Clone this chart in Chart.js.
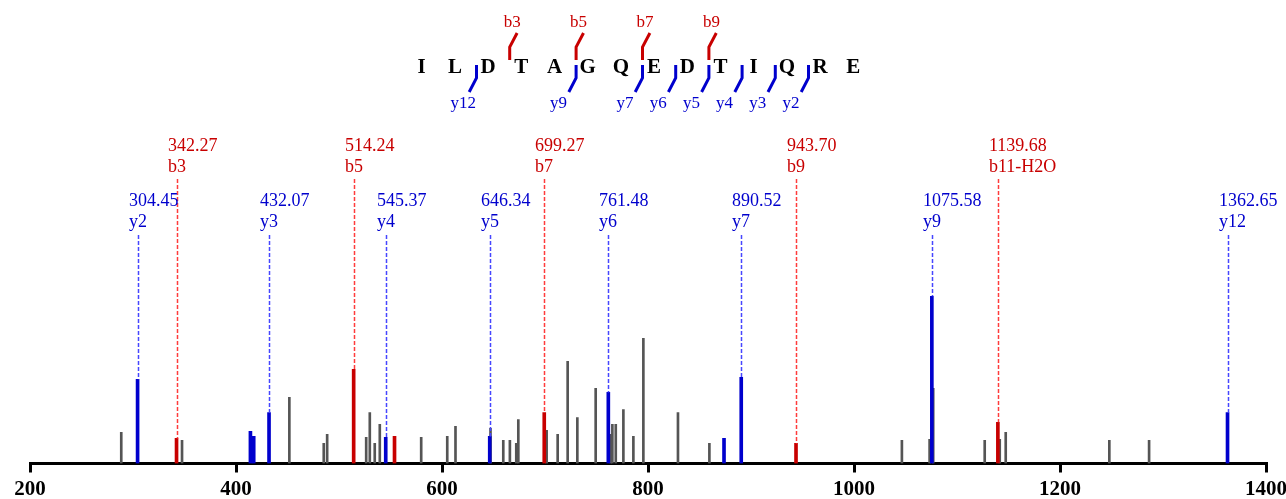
<!DOCTYPE html>
<html lang="en">
<head>
<meta charset="UTF-8">
<title>MS/MS spectrum</title>
<script src="https://cdn.jsdelivr.net/npm/chart.js"></script>
<style>
  html, body { margin: 0; padding: 0; background: #fff; }
</style>
</head>
<body>
<canvas id="myChart" width="1286" height="499"></canvas>
<script>
// peptide and fragment cuts
const peptide = ['I','L','D','T','A','G','Q','E','D','T','I','Q','R','E'];
const bCuts = [3, 5, 7, 9];
const yCuts = [12, 9, 7, 6, 5, 4, 3, 2];

// unmatched peaks (grey)
const greyMz  = [288.6, 347.6, 451.8, 485.2, 488.5, 526.4, 529.9, 534.7, 539.6, 579.8, 605.1, 613.1,
                 647.1, 659.5, 665.9, 672.1, 674.1, 701.6, 712.3, 722.0, 731.4, 749.2, 763.8, 765.4,
                 768.7, 776.1, 785.8, 795.5, 829.1, 859.6, 1046.5, 1073.4, 1076.9, 1126.9, 1141.5,
                 1147.3, 1247.9, 1286.5];
const greyInt = [18.6, 13.8, 39.5, 12.0, 17.4, 15.6, 30.5, 12.0, 23.4, 15.6, 16.2, 22.2,
                 21.0, 13.8, 13.8, 12.0, 26.3, 19.8, 17.4, 61.1, 27.5, 44.9, 17.4, 23.4,
                 23.4, 32.3, 16.2, 74.9, 30.5, 12.0, 13.8, 14.4, 44.9, 13.8, 14.4,
                 18.6, 13.8, 13.8];

// y ions (blue)
const blueMz  = [304.45, 414.0, 417.2, 432.07, 545.37, 646.34, 761.48, 873.8, 890.52, 1075.58, 1362.65];
const blueInt = [50.3, 19.2, 16.2, 30.5, 15.6, 16.2, 42.5, 15.0, 51.5, 100, 30.5];

// b ions (red)
const redMz  = [342.27, 514.24, 553.9, 699.27, 943.70, 1139.68];
const redInt = [15.0, 56.3, 16.2, 30.5, 12.0, 24.6];

// annotated peaks
const bLabelMz   = [342.27, 514.24, 699.27, 943.70, 1139.68];
const bLabelName = ['b3', 'b5', 'b7', 'b9', 'b11-H2O'];
const yLabelMz   = [304.45, 432.07, 545.37, 646.34, 761.48, 890.52, 1075.58, 1362.65];
const yLabelName = ['y2', 'y3', 'y4', 'y5', 'y6', 'y7', 'y9', 'y12'];

const xTicks = [200, 400, 600, 800, 1000, 1200, 1400];

const RED = 'rgb(200, 0, 0)';
const BLUE = 'rgb(0, 0, 205)';
const SERIF = "'Liberation Serif', 'Times New Roman', serif";

function pts(mz, inten) {
    return mz.map((m, i) => ({ x: m, y: inten[i] }));
}

// dashed leader lines + m/z labels + sequence header
const annotate = {
    id: 'annotate',
    afterDatasetsDraw(chart) {
        const c = chart.ctx;
        const xs = chart.scales.x;
        const ys = chart.scales.y;

        function leaders(mzs, names, source, inten, topY, lineCol, txtCol, row1, row2) {
            mzs.forEach((m, i) => {
                const x = Math.round(xs.getPixelForValue(m)) + 0.5;
                const v = inten[source.indexOf(m)];
                const yb = ys.getPixelForValue(v);
                c.save();
                c.strokeStyle = lineCol;
                c.lineWidth = 1.5;
                c.setLineDash([4, 2]);
                c.beginPath();
                c.moveTo(x, topY);
                c.lineTo(x, yb);
                c.stroke();
                c.restore();
                c.fillStyle = txtCol;
                c.font = '18px ' + SERIF;
                c.textAlign = 'left';
                c.textBaseline = 'alphabetic';
                c.fillText(m.toFixed(2), x - 9.5, row1);
                c.fillText(names[i], x - 9.5, row2);
            });
        }
        leaders(bLabelMz, bLabelName, redMz, redInt, 179, 'rgb(255, 60, 60)', RED, 151, 172);
        leaders(yLabelMz, yLabelName, blueMz, blueInt, 235, 'rgb(70, 70, 255)', BLUE, 206, 227);

        // peptide sequence
        const x0 = 421.7, step = 33.2;
        c.fillStyle = '#000';
        c.font = 'bold 21px ' + SERIF;
        c.textAlign = 'center';
        peptide.forEach((aa, k) => c.fillText(aa, x0 + k * step, 73));

        c.lineWidth = 3;
        c.font = '17px ' + SERIF;
        c.textAlign = 'left';
        bCuts.forEach(n => {
            const x = x0 + (n - 0.5) * step + 5;
            c.strokeStyle = RED;
            c.beginPath();
            c.moveTo(x, 60);
            c.lineTo(x, 47);
            c.lineTo(x + 7.4, 33);
            c.stroke();
            c.fillStyle = RED;
            c.fillText('b' + n, x - 6, 27);
        });
        yCuts.forEach(n => {
            const x = x0 + (peptide.length - n - 0.5) * step + 5;
            c.strokeStyle = BLUE;
            c.beginPath();
            c.moveTo(x, 65);
            c.lineTo(x, 78);
            c.lineTo(x - 7.3, 92);
            c.stroke();
            c.fillStyle = BLUE;
            c.fillText('y' + n, x - 26, 108);
        });
    }
};

const ctx = document.getElementById('myChart').getContext('2d');

const myChart = new Chart(ctx, {
    type: 'bar',
    data: {
        datasets: [
            {
                data: pts(blueMz, blueInt),
                backgroundColor: BLUE,
                barThickness: 3,
                grouped: false,
                order: 1
            },
            {
                data: pts(redMz, redInt),
                backgroundColor: RED,
                barThickness: 3,
                grouped: false,
                order: 1
            },
            {
                data: pts(greyMz, greyInt),
                backgroundColor: '#555555',
                barThickness: 2,
                grouped: false,
                order: 3
            }
        ]
    },
    options: {
        responsive: false,
        animation: false,
        layout: {
            padding: { left: 30, right: 20, top: 129, bottom: 0 }
        },
        plugins: {
            legend: { display: false },
            tooltip: { enabled: false }
        },
        scales: {
            x: {
                type: 'linear',
                min: 200,
                max: 1400,
                offset: false,
                afterBuildTicks: (scale) => {
                    scale.ticks = xTicks.map(v => ({ value: v }));
                },
                afterFit: (scale) => {
                    scale.paddingLeft = 0;
                    scale.paddingRight = 0;
                    scale.height = 35.5;
                },
                grid: {
                    offset: false,
                    drawOnChartArea: false,
                    drawTicks: true,
                    tickLength: 9,
                    lineWidth: 3,
                    color: '#000'
                },
                border: { display: true, width: 3, color: '#000' },
                ticks: {
                    color: '#000',
                    padding: 6.5,
                    maxRotation: 0,
                    autoSkip: false,
                    callback: (v) => String(v),
                    font: { family: SERIF, size: 21, weight: 'bold', lineHeight: 1.0 }
                }
            },
            y: {
                display: false,
                min: 0,
                max: 200
            }
        }
    },
    plugins: [annotate]
});
</script>
</body>
</html>
